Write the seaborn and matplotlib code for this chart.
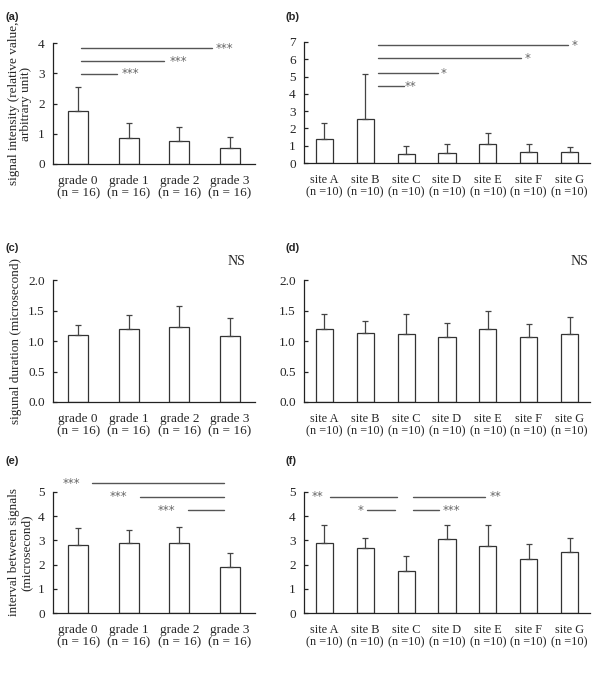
import numpy as np
import pandas as pd
import seaborn as sns
import matplotlib.pyplot as plt

# --- data ---
grades = ['grade 0', 'grade 1', 'grade 2', 'grade 3']
sites = ['site A', 'site B', 'site C', 'site D', 'site E', 'site F', 'site G']
grade_n = '(n = 16)'
site_n = '(n =10)'

# mean and upper end of error bar
intensity_grade = [1.75, 0.85, 0.75, 0.52]
intensity_grade_top = [2.56, 1.37, 1.22, 0.88]
intensity_site = [1.40, 2.55, 0.52, 0.58, 1.10, 0.62, 0.62]
intensity_site_top = [2.30, 5.15, 0.97, 1.12, 1.72, 1.12, 0.93]

duration_grade = [1.10, 1.19, 1.23, 1.09]
duration_grade_top = [1.27, 1.42, 1.57, 1.37]
duration_site = [1.19, 1.13, 1.12, 1.07, 1.19, 1.06, 1.12]
duration_site_top = [1.45, 1.32, 1.45, 1.30, 1.50, 1.28, 1.40]

interval_grade = [2.80, 2.90, 2.88, 1.92]
interval_grade_top = [3.50, 3.45, 3.55, 2.47]
interval_site = [2.90, 2.68, 1.75, 3.05, 2.78, 2.22, 2.52]
interval_site_top = [3.62, 3.10, 2.35, 3.62, 3.63, 2.87, 3.08]

# significance marks: (x start, x end, y, label, label x, label alignment)
sig_a = [(0.05, 2.65, 3.83, '***', 2.72, 'left'),
         (0.05, 1.70, 3.40, '***', 1.80, 'left'),
         (0.05, 0.77, 2.98, '***', 0.86, 'left')]
sig_b = [(1.31, 5.95, 6.80, '*', 6.13, 'center'),
         (1.31, 4.80, 6.05, '*', 4.98, 'center'),
         (1.31, 2.78, 5.20, '*', 2.92, 'center'),
         (1.31, 1.94, 4.45, '**', 1.97, 'left')]
sig_e = [(0.27, 2.89, 5.36, '***', -0.14, 'center'),
         (1.22, 2.89, 4.80, '***', 0.79, 'center'),
         (2.17, 2.89, 4.25, '***', 1.74, 'center')]
sig_f = [(0.14, 1.77, 4.80, '**', -0.18, 'center'),
         (2.17, 3.93, 4.80, '**', 4.19, 'center'),
         (1.04, 1.72, 4.25, '*', 0.89, 'center'),
         (2.17, 2.80, 4.25, '***', 3.12, 'center')]

sns.set_style('white')
plt.rcParams['font.family'] = ['Liberation Serif', 'DejaVu Serif']

W, H = 600, 682
fig = plt.figure(figsize=(6, 6.82), dpi=100)


def add_ax(left, right, top, bottom):
    return fig.add_axes([left / W, 1 - bottom / H, (right - left) / W, (bottom - top) / H])


def panel(ax, cats, nlabel, means, tops, ymax, yticks, yfmt, width, xfs=9.5):
    df = pd.DataFrame({'cat': cats, 'value': means})
    sns.barplot(data=df, x='cat', y='value', ax=ax, color='white',
                edgecolor='#333333', linewidth=0.9, width=width, errorbar=None)
    x = np.arange(len(cats))
    up = np.array(tops) - np.array(means)
    ax.errorbar(x, means, yerr=[np.zeros(len(cats)), up], fmt='none',
                ecolor='#444444', elinewidth=0.9, capsize=2.5, capthick=0.9)
    ax.set_xlim(-0.5, len(cats) - 0.5)
    ax.set_ylim(0, ymax)
    ax.set_yticks(yticks)
    ax.set_yticklabels([yfmt.format(v) for v in yticks], fontsize=9.5)
    ax.set_xticks(x)
    ax.set_xticklabels([f'{c}\n{nlabel}' for c in cats], fontsize=xfs, linespacing=1.0)
    ax.set_xticks(np.arange(0.5, len(cats), 1.0), minor=True)
    ax.tick_params(axis='x', which='major', length=0, pad=8)
    ax.tick_params(axis='x', which='minor', direction='in', length=3, width=0.9, color='#222222')
    ax.tick_params(axis='y', direction='in', length=3, width=0.9, color='#222222', pad=6,
                   left=True)
    ax.set_xlabel('')
    ax.set_ylabel('')
    sns.despine(ax=ax)
    for s in ['left', 'bottom']:
        ax.spines[s].set_color('#222222')
        ax.spines[s].set_linewidth(0.9)


def sig(ax, marks, color='#555555'):
    for x0, x1, y, lab, tx, ha in marks:
        ax.plot([x0, x1], [y, y], color=color, lw=1.0, clip_on=False)
        ax.text(tx, y, lab, ha=ha, va='center', fontsize=8.5, color='#666666',
                family=['DejaVu Sans'])


ax_a = add_ax(53, 255, 43, 164)
panel(ax_a, grades, grade_n, intensity_grade, intensity_grade_top, 4, [0, 1, 2, 3, 4], '{:.0f}', 0.4)
sig(ax_a, sig_a)
ax_a.set_ylabel('signal intensity (relative value,\narbitrary unit)', fontsize=9.5, linespacing=1.0)

ax_b = add_ax(304, 590, 42, 163)
panel(ax_b, sites, site_n, intensity_site, intensity_site_top, 7, list(range(8)), '{:.0f}', 0.42, xfs=8.8)
sig(ax_b, sig_b)

ax_c = add_ax(53, 255, 280, 402)
panel(ax_c, grades, grade_n, duration_grade, duration_grade_top, 2.0, [0, 0.5, 1.0, 1.5, 2.0], '{:.1f}', 0.4)
ax_c.set_ylabel('sigunal duration (microsecond)', fontsize=9.5)
ax_c.text(3.14, 2.31, 'NS', ha='center', va='center', fontsize=10)

ax_d = add_ax(304, 590, 280, 402)
panel(ax_d, sites, site_n, duration_site, duration_site_top, 2.0, [0, 0.5, 1.0, 1.5, 2.0], '{:.1f}', 0.42, xfs=8.8)
ax_d.text(6.25, 2.31, 'NS', ha='center', va='center', fontsize=10)

ax_e = add_ax(53, 255, 492, 613)
panel(ax_e, grades, grade_n, interval_grade, interval_grade_top, 5, list(range(6)), '{:.0f}', 0.4)
sig(ax_e, sig_e)
ax_e.set_ylabel('interval between signals\n(microsecond)', fontsize=9.5, linespacing=1.0)

ax_f = add_ax(304, 590, 492, 613)
panel(ax_f, sites, site_n, interval_site, interval_site_top, 5, list(range(6)), '{:.0f}', 0.42, xfs=8.8)
sig(ax_f, sig_f)

for lab, px, py in [('(a)', 6, 17), ('(b)', 285, 17), ('(c)', 6, 248),
                    ('(d)', 285, 248), ('(e)', 6, 461), ('(f)', 285, 461)]:
    fig.text(px / W, 1 - py / H, lab, ha='left', va='center', fontsize=8,
             fontweight='bold', family=['Liberation Sans', 'DejaVu Sans'])

fig.savefig('out.png', dpi=100, facecolor='white')
